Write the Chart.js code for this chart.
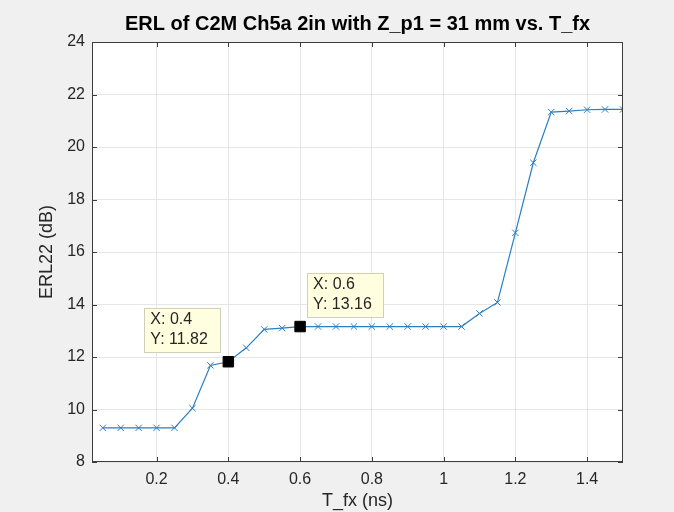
<!DOCTYPE html>
<html>
<head>
<meta charset="utf-8">
<title>ERL of C2M Ch5a 2in</title>
<script src="https://cdn.jsdelivr.net/npm/chart.js@4.4.1/dist/chart.umd.min.js"></script>
<style>
  html, body { margin: 0; padding: 0; background: #f0f0f0; }
  #wrap { width: 674px; height: 512px; }
</style>
</head>
<body>
<div id="wrap"><canvas id="erl-chart" width="674" height="512"></canvas></div>
<script>
// valores
const tfx = [0.05, 0.1, 0.15, 0.2, 0.25, 0.3, 0.35, 0.4, 0.45, 0.5,
             0.55, 0.6, 0.65, 0.7, 0.75, 0.8, 0.85, 0.9, 0.95, 1.0,
             1.05, 1.1, 1.15, 1.2, 1.25, 1.3, 1.35, 1.4, 1.45, 1.5];
const erl22 = [9.3, 9.3, 9.3, 9.3, 9.3, 10.05, 11.68, 11.82, 12.35, 13.05,
               13.1, 13.16, 13.16, 13.16, 13.16, 13.16, 13.16, 13.16, 13.16, 13.16,
               13.16, 13.66, 14.08, 16.73, 19.4, 21.33, 21.37, 21.42, 21.43, 21.43];

const xTicks = [0.2, 0.4, 0.6, 0.8, 1.0, 1.2, 1.4];
const xTickLabels = ['0.2', '0.4', '0.6', '0.8', '1', '1.2', '1.4'];
const yTicks = [8, 10, 12, 14, 16, 18, 20, 22, 24];

// data tips
const tipX = [0.4, 0.6];
const tipY = [11.82, 13.16];

const titleText = 'ERL of C2M Ch5a 2in with Z_p1 = 31 mm vs. T_fx';
const FONT = "'Liberation Sans', Arial, Helvetica, sans-serif";
const INK = '#262626';
const lineBlue = '#2a7fc0';
const tipSide = ['left', 'right'];

// fundo branco, caixa e ticks para dentro (estilo MATLAB)
const matlabAxes = {
    id: 'matlabAxes',
    beforeDraw(chart) {
        const { ctx, chartArea: a } = chart;
        ctx.save();
        ctx.fillStyle = '#ffffff';
        ctx.fillRect(a.left, a.top, a.right - a.left, a.bottom - a.top);
        ctx.restore();
    },
    afterDatasetsDraw(chart) {
        const { ctx, chartArea: a, scales } = chart;
        const tl = 5;
        ctx.save();
        ctx.strokeStyle = '#3c3c3c';
        ctx.lineWidth = 1;
        ctx.strokeRect(a.left + 0.5, a.top + 0.5, a.right - a.left - 1, a.bottom - a.top - 1);
        ctx.beginPath();
        xTicks.forEach(v => {
            const px = Math.round(scales.x.getPixelForValue(v)) + 0.5;
            ctx.moveTo(px, a.bottom); ctx.lineTo(px, a.bottom - tl);
            ctx.moveTo(px, a.top); ctx.lineTo(px, a.top + tl);
        });
        yTicks.forEach(v => {
            const py = Math.round(scales.y.getPixelForValue(v)) + 0.5;
            ctx.moveTo(a.left, py); ctx.lineTo(a.left + tl, py);
            ctx.moveTo(a.right, py); ctx.lineTo(a.right - tl, py);
        });
        ctx.stroke();

        // título centrado nos eixos
        ctx.fillStyle = '#000';
        ctx.font = 'bold 20px ' + FONT;
        ctx.textAlign = 'center';
        ctx.textBaseline = 'middle';
        ctx.fillText(titleText, (a.left + a.right) / 2, 24);
        ctx.restore();
    }
};

// caixinhas amarelas dos data tips
const dataTips = {
    id: 'dataTips',
    afterDraw(chart) {
        const { ctx, scales } = chart;
        const w = 76, h = 44;
        ctx.save();
        ctx.font = '16px ' + FONT;
        ctx.textBaseline = 'middle';
        ctx.textAlign = 'left';
        tipX.forEach((tx, i) => {
            const px = scales.x.getPixelForValue(tx);
            const py = scales.y.getPixelForValue(tipY[i]);
            const left = tipSide[i] === 'left' ? px - 8 - w : px + 7;
            const top = py - 10 - h;
            ctx.fillStyle = '#ffffe0';
            ctx.fillRect(left, top, w, h);
            ctx.strokeStyle = '#cfcfba';
            ctx.lineWidth = 1;
            ctx.strokeRect(Math.round(left) + 0.5, Math.round(top) + 0.5, w, h);
            ctx.fillStyle = INK;
            ctx.fillText('X: ' + tx, left + 6, top + 12);
            ctx.fillText('Y: ' + tipY[i], left + 6, top + 32);
        });
        ctx.restore();
    }
};

const ctx = document.getElementById('erl-chart').getContext('2d');

window.erlChart = new Chart(ctx, {
    type: 'line',
    data: {
        datasets: [{
            label: 'ERL22',
            data: tfx.map((x, i) => ({ x: x, y: erl22[i] })),
            borderColor: lineBlue,
            borderWidth: 1.2,
            pointStyle: 'crossRot',
            pointRadius: 4.5,
            pointBorderColor: lineBlue,
            pointBorderWidth: 1,
            fill: false,
            tension: 0,
            order: 2
        }, {
            label: 'datatips',
            data: tipX.map((x, i) => ({ x: x, y: tipY[i] })),
            showLine: false,
            pointStyle: 'rect',
            pointRadius: 7.4,
            pointBackgroundColor: '#000',
            pointBorderColor: '#000',
            order: 1
        }]
    },
    options: {
        responsive: false,
        animation: false,
        devicePixelRatio: 1,
        layout: { padding: { left: 0, right: 51, top: 42, bottom: 0 } },
        plugins: {
            legend: { display: false },
            tooltip: { enabled: false },
            title: { display: false }
        },
        scales: {
            x: {
                type: 'linear',
                min: 0.02,
                max: 1.5,
                afterBuildTicks: s => { s.ticks = xTicks.map(v => ({ value: v })); },
                afterFit: s => { s.height = 50; },
                ticks: {
                    callback: (v, i) => xTickLabels[i],
                    font: { family: FONT, size: 16 },
                    color: INK,
                    padding: 8,
                    maxRotation: 0,
                    autoSkip: false
                },
                grid: { color: '#e6e6e6', drawTicks: false },
                border: { display: false },
                title: {
                    display: true,
                    text: 'T_fx (ns)',
                    font: { family: FONT, size: 18 },
                    color: INK,
                    padding: { top: 0, bottom: 0 }
                }
            },
            y: {
                type: 'linear',
                min: 8,
                max: 24,
                afterBuildTicks: s => { s.ticks = yTicks.map(v => ({ value: v })); },
                afterFit: s => { s.width = 92; },
                ticks: {
                    font: { family: FONT, size: 16 },
                    color: INK,
                    padding: 7
                },
                grid: { color: '#e6e6e6', drawTicks: false },
                border: { display: false },
                title: {
                    display: true,
                    text: 'ERL22 (dB)',
                    font: { family: FONT, size: 18 },
                    color: INK,
                    padding: { top: 36, bottom: 0 }
                }
            }
        }
    },
    plugins: [matlabAxes, dataTips]
});
</script>
</body>
</html>
